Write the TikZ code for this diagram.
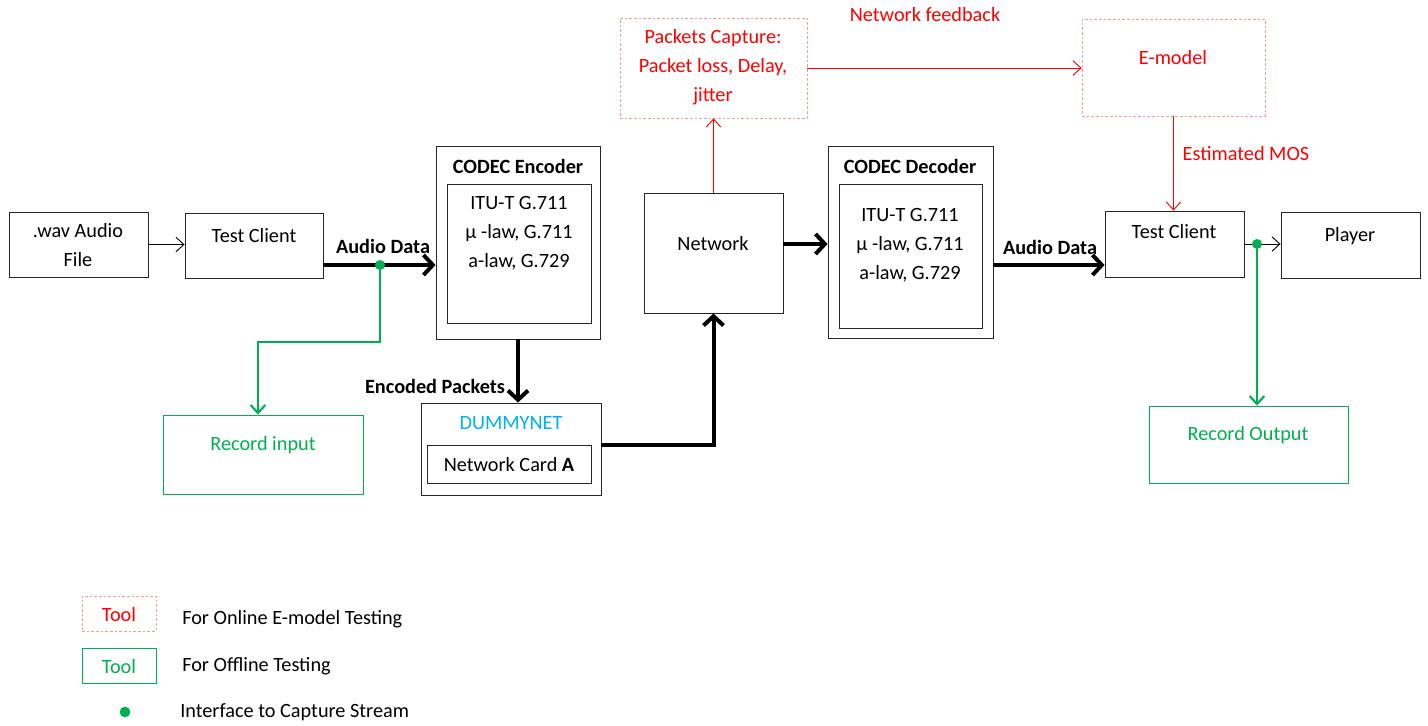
\documentclass[tikz,border=0pt]{standalone}
\usepackage{fontspec}
\setmainfont{Carlito}
\usetikzlibrary{arrows.meta,fit,calc}
\definecolor{myred}{HTML}{FF0000}
\definecolor{dashred}{HTML}{F29A9A}
\definecolor{mygreen}{HTML}{00B050}
\definecolor{mycyan}{HTML}{00B0F0}
\begin{document}
\begin{tikzpicture}[x=0.75pt,y=-0.75pt,
  font=\fontsize{15.2}{21.75}\selectfont,
  bfont/.style={font=\fontsize{15.2}{21.75}\selectfont\bfseries},
  box/.style={draw=black!85, line width=0.65pt, inner sep=0pt},
  toolbox/.style={draw=dashred, dash pattern=on 2pt off 1.5pt, line width=0.6pt, inner sep=0pt},
  offbox/.style={draw=mygreen, line width=0.65pt, inner sep=0pt},
  txt/.style={inner sep=0pt, align=center},
  thinarrow/.style={line width=0.7pt, -{Straight Barb[length=6pt,width=11pt]}},
  redarrow/.style={draw=myred, line width=0.7pt, -{Straight Barb[length=6pt,width=11pt]}},
  bigarrow/.style={line width=3pt, -{Straight Barb[length=7pt,width=15pt]}},
  greenarrow/.style={draw=mygreen, line width=1.6pt, -{Straight Barb[length=6pt,width=11pt]}},
  gdot/.style={circle, fill=mygreen, inner sep=0pt, minimum size=7.5pt}]
\useasboundingbox (0,0) rectangle (1428,725);

% boxes
\node[box, fit={(9,212) (148,277)}] (wav) {};
\node[box, fit={(185,213) (323,278)}] (tc1) {};
\node[box, fit={(436,146) (600,339)}] (enc) {};
\node[box, fit={(447,184) (591,323)}] (encin) {};
\node[box, fit={(421,403) (601,495)}] (dum) {};
\node[box, fit={(427,445) (591,483)}] (card) {};
\node[box, fit={(644,193) (783,313)}] (net) {};
\node[toolbox, fit={(620,18) (807,118)}] (pc) {};
\node[toolbox, fit={(1082,19) (1265,116)}] (em) {};
\node[box, fit={(828,146) (993,338)}] (dec) {};
\node[box, fit={(839,184) (982,328)}] (decin) {};
\node[box, fit={(1105,211) (1244,277)}] (tc2) {};
\node[box, fit={(1281,212) (1420,278)}] (pl) {};
\node[offbox, fit={(163,415) (363,494)}] (rin) {};
\node[offbox, fit={(1149,406) (1348,483)}] (rout) {};

% texts
\node[txt] (wavt) at (78,245) {.wav Audio\\File};
\node[txt] (tc1t) at (254,236) {Test Client};
\node[txt, bfont] (enct) at (518,166) {CODEC Encoder};
\node[txt] (encint) at (519,233) {ITU-T G.711\\μ -law, G.711\\a-law, G.729};
\node[txt, text=mycyan] (dumt) at (511,423) {DUMMYNET};
\node[txt] (cardt) at (509,465) {Network Card \textbf{A}};
\node[txt] (nett) at (713,244) {Network};
\node[txt, text=myred] (pct) at (713,67) {Packets Capture:\\Packet loss, Delay,\\jitter};
\node[txt, text=myred] (emt) at (1173,58) {E-model};
\node[txt, bfont] (dect) at (910,166) {CODEC Decoder};
\node[txt] (decint) at (910,245) {ITU-T G.711\\μ -law, G.711\\a-law, G.729};
\node[txt] (tc2t) at (1174,232) {Test Client};
\node[txt] (plt) at (1350,236) {Player};
\node[txt, text=mygreen] (rint) at (263,445) {Record input};
\node[txt, text=mygreen] (routt) at (1248,435) {Record Output};

% labels
\node[txt, bfont] (lad1) at (383,246) {Audio Data};
\node[txt, bfont] (lad2) at (1050,247) {Audio Data};
\node[txt, bfont] (lenc) at (435,386) {Encoded Packets};
\node[txt, text=myred] (lnf) at (925,15) {Network feedback};
\node[txt, text=myred] (lmos) at (1246,154) {Estimated MOS};

% interface dots
\coordinate (d1) at (380,265);
\coordinate (d3) at (1257,244);

% connectors
\draw[thinarrow] (wav.east) -- (wav.east -| tc1.west);
\draw[bigarrow] (tc1.east |- d1) -- (enc.west |- d1);
\draw[bigarrow] (enc.south) -- (enc.south |- dum.north);
\draw[bigarrow] (dum.east |- card.north) -| (net.south);
\draw[bigarrow] ([yshift=6.75pt]net.east) -- ([yshift=6.75pt]net.east -| dec.west);
\draw[bigarrow] (dec.east |- 0,265) -- (tc2.west |- 0,265);
\draw[thinarrow] (tc2.east) -- (tc2.east -| pl.west);
\draw[redarrow] (net.north) -- (pc.south);
\draw[redarrow] (pc.east) -- (pc.east -| em.west);
\draw[redarrow] (em.south) -- (em.south |- tc2.north);
\draw[greenarrow] (d1) -- ++(0,77) -| ([xshift=-3.75pt]rin.north);
\draw[greenarrow] (d3) -- (d3 |- rout.north);
\node[gdot] (dot1) at (d1) {};
\node[gdot] (dot3) at (d3) {};

% legend
\node[toolbox, fit={(82,596) (156,631)}] (leg1) {};
\node[txt, text=myred] (leg1t) at (119,615) {Tool};
\node[offbox, fit={(82,648) (156,683)}] (leg2) {};
\node[txt, text=mygreen] (leg2t) at (119,667) {Tool};
\node[gdot, minimum size=8pt] (leg3) at (125,712) {};
\node[txt, anchor=west] (leg1d) at (182,619) {For Online E-model Testing};
\node[txt, anchor=west] (leg2d) at (182,666) {For Offline Testing};
\node[txt, anchor=west] (leg3d) at (180,712) {Interface to Capture Stream};
\end{tikzpicture}
\end{document}
